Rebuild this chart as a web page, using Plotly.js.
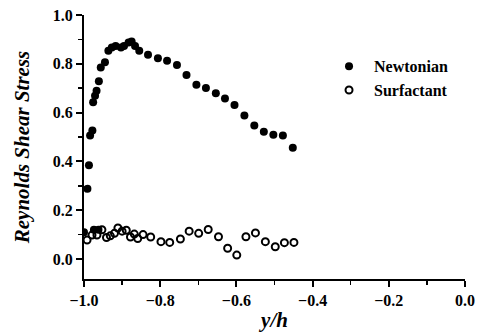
<!DOCTYPE html>
<html>
<head>
<meta charset="utf-8">
<script src="https://cdn.plot.ly/plotly-3.0.1.min.js"></script>
<style>html,body{margin:0;padding:0;background:#fff;}#chart{width:481px;height:334px;}</style>
</head>
<body>
<div id="chart"></div>
<script>
var newtX = [-1.0, -0.991, -0.987, -0.984, -0.978, -0.974, -0.962, -0.976, -0.971, -0.967, -0.961, -0.956, -0.945, -0.936, -0.927, -0.917, -0.903, -0.895, -0.883, -0.875, -0.866, -0.855, -0.832, -0.806, -0.782, -0.756, -0.731, -0.705, -0.680, -0.654, -0.630, -0.605, -0.579, -0.553, -0.528, -0.503, -0.478, -0.452];
var newtY = [0.11, 0.288, 0.384, 0.506, 0.527, 0.12, 0.12, 0.642, 0.669, 0.690, 0.728, 0.785, 0.806, 0.853, 0.867, 0.873, 0.867, 0.873, 0.887, 0.891, 0.873, 0.853, 0.837, 0.823, 0.812, 0.795, 0.754, 0.714, 0.701, 0.679, 0.658, 0.631, 0.588, 0.547, 0.522, 0.509, 0.506, 0.456];
var surfX = [-0.992, -0.979, -0.966, -0.953, -0.941, -0.931, -0.920, -0.911, -0.900, -0.889, -0.878, -0.868, -0.859, -0.845, -0.825, -0.798, -0.775, -0.747, -0.724, -0.699, -0.674, -0.647, -0.623, -0.599, -0.575, -0.550, -0.524, -0.498, -0.474, -0.449];
var surfY = [0.078, 0.098, 0.098, 0.120, 0.088, 0.095, 0.105, 0.127, 0.114, 0.118, 0.090, 0.102, 0.084, 0.100, 0.090, 0.071, 0.068, 0.082, 0.114, 0.105, 0.121, 0.091, 0.044, 0.016, 0.091, 0.107, 0.071, 0.050, 0.067, 0.068];
var seriesNames = ["Newtonian", "Surfactant"];

var serif = "Liberation Serif, Times New Roman, serif";
var traces = [
  {x: newtX, y: newtY, mode: "markers", type: "scatter", name: seriesNames[0],
   marker: {symbol: "circle", size: 8, color: "#000"}},
  {x: surfX, y: surfY, mode: "markers", type: "scatter", name: seriesNames[1],
   marker: {symbol: "circle-open", size: 7, color: "#000", line: {width: 2, color: "#000"}}}
];
var layout = {
  width: 481, height: 334,
  margin: {l: 84, r: 16, t: 15, b: 55},
  paper_bgcolor: "#fff", plot_bgcolor: "#fff",
  showlegend: true,
  legend: {x: 0.63, y: 0.87, xanchor: "left", yanchor: "top", bgcolor: "rgba(0,0,0,0)",
    itemwidth: 40, tracegroupgap: 0,
    font: {family: serif, size: 16, color: "#000", weight: "bold"}},
  xaxis: {
    range: [-1.0, 0.0], dtick: 0.2, tick0: 0, tickformat: ".1f",
    showgrid: false, zeroline: false, showline: true, linecolor: "#000", linewidth: 2,
    ticks: "outside", ticklen: 6, tickwidth: 2, tickcolor: "#000",
    minor: {dtick: 0.1, ticks: "outside", ticklen: 4, tickwidth: 1.5, tickcolor: "#000", showgrid: false},
    tickfont: {family: serif, size: 16, color: "#000", weight: "bold"},
    title: {text: "<i>y/h</i>", font: {family: serif, size: 21, color: "#000", weight: "bold"}, standoff: 4}
  },
  yaxis: {
    range: [-0.082, 1.0], dtick: 0.2, tick0: 0, tickformat: ".1f",
    showgrid: false, zeroline: false, showline: true, linecolor: "#000", linewidth: 2,
    ticks: "outside", ticklen: 6, tickwidth: 2, tickcolor: "#000",
    minor: {dtick: 0.1, ticks: "outside", ticklen: 4, tickwidth: 1.5, tickcolor: "#000", showgrid: false},
    tickfont: {family: serif, size: 16, color: "#000", weight: "bold"},
    title: {text: "<i>Reynolds Shear Stress</i>", font: {family: serif, size: 21, color: "#000", weight: "bold"}, standoff: 17}
  }
};
Plotly.newPlot("chart", traces, layout, {displayModeBar: false, staticPlot: true});
</script>
</body>
</html>
